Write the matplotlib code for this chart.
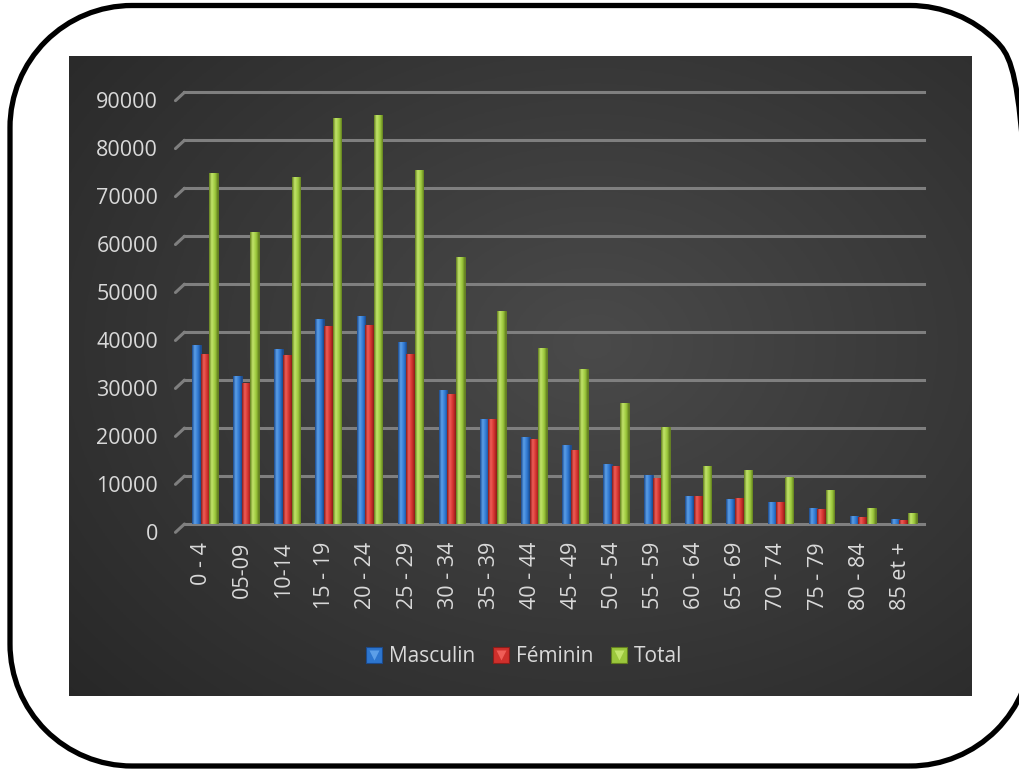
import numpy as np
import matplotlib.pyplot as plt
import matplotlib.transforms as mtransforms
from matplotlib.patches import PathPatch
from matplotlib.path import Path
from matplotlib.lines import Line2D
from matplotlib.legend_handler import HandlerTuple

plt.rcParams['font.family'] = ['Open Sans', 'DejaVu Sans']

groupes = ['0 - 4', '05-09', '10-14', '15 - 19', '20 - 24', '25 - 29', '30 - 34',
           '35 - 39', '40 - 44', '45 - 49', '50 - 54', '55 - 59', '60 - 64',
           '65 - 69', '70 - 74', '75 - 79', '80 - 84', '85 et +']
masculin = [37400, 30900, 36500, 42800, 43300, 37900, 28000, 21800, 18100,
            16400, 12500, 10200, 5800, 5300, 4600, 3400, 1700, 1000]
feminin = [35400, 29300, 35300, 41300, 41500, 35500, 27000, 21800, 17700,
           15500, 12100, 9600, 5800, 5400, 4600, 3200, 1400, 900]
total = [73200, 60900, 72400, 84600, 85200, 73900, 55600, 44400, 36600,
         32300, 25200, 20200, 12100, 11300, 9800, 7100, 3400, 2300]
yticks = list(range(0, 90001, 10000))

# dark, light, mid colours for the cylinder shading of each series
series = [
    ('Masculin', masculin, ('#1b4a8c', '#5c9fe8', '#2d76cf')),
    ('Féminin', feminin, ('#8a1d1a', '#ef5d57', '#cf302c')),
    ('Total', total, ('#637f1f', '#c2e46a', '#9bc73c')),
]

W, H = 1020, 771
fig = plt.figure(figsize=(W / 100, H / 100), dpi=100)
fig.patch.set_facecolor('white')

# dark panel with a soft radial glow
px0, px1, py0, py1 = 69, 972, 56, 696
bg = fig.add_axes([px0 / W, 1 - py1 / H, (px1 - px0) / W, (py1 - py0) / H])
gx, gy = np.meshgrid(np.linspace(0, 1, 300), np.linspace(0, 1, 220))
r = np.sqrt(((gx - 0.58) / 0.75) ** 2 + ((gy - 0.45) / 0.8) ** 2)
lev = np.clip(0.29 - 0.13 * r, 0.155, 0.29)
bg.imshow(np.dstack([lev, lev, lev]), extent=(0, 1, 0, 1), aspect='auto')
bg.set_axis_off()

ax0, ax1 = 184.5, 924.3
ay0, ay1 = 524, 92.3
ax = fig.add_axes([ax0 / W, 1 - ay0 / H, (ax1 - ax0) / W, (ay0 - ay1) / H])
ax.set_facecolor('none')

x = np.arange(len(groupes))
w = 0.21


def shade(dark, light, mid):
    cols = np.array([plt.matplotlib.colors.to_rgb(c) for c in (dark, light, mid, dark)])
    t = np.linspace(0, 1, 40)
    return np.dstack([np.interp(t, [0, 0.3, 0.7, 1], cols[:, k]) for k in range(3)])


for i, (name, vals, cols) in enumerate(series):
    bars = ax.bar(x + (i - 1) * w, vals, w, color=cols[2], edgecolor=cols[0],
                  linewidth=0.6, zorder=3)
    grad = shade(*cols)
    for b in bars:
        im = ax.imshow(grad, extent=(b.get_x(), b.get_x() + b.get_width(), 0, b.get_height()),
                       aspect='auto', zorder=3.5)
        im.set_clip_path(b)

ax.set_xlim(-0.5, len(groupes) - 0.5)
ax.set_ylim(0, 90000)

# horizontal grid with a short slanted depth stroke on the left
for v in yticks:
    ax.axhline(v, color='#7f7f7f', lw=2.2, zorder=1, clip_on=False)
    ax.annotate('', xy=(-0.5, v), xytext=(-6.5, -6), textcoords='offset points',
                arrowprops=dict(arrowstyle='-', color='#7f7f7f', lw=2.2,
                                shrinkA=0, shrinkB=0), annotation_clip=False)

for s in ax.spines.values():
    s.set_visible(False)

ax.set_yticks(yticks)
ax.set_yticklabels([str(v) for v in yticks])
ax.set_xticks(x)
ax.set_xticklabels(groupes, rotation=90)
ax.tick_params(axis='y', length=0, pad=19, labelsize=15.5, labelcolor='#d9d9d9')
ax.tick_params(axis='x', length=0, pad=13, labelsize=15.5, labelcolor='#d9d9d9')

for lab in ax.get_yticklabels():
    lab.set_transform(lab.get_transform() + mtransforms.ScaledTranslation(0, -0.08, fig.dpi_scale_trans))
for lab in ax.get_xticklabels():
    lab.set_transform(lab.get_transform() + mtransforms.ScaledTranslation(-0.035, 0, fig.dpi_scale_trans))

handles = []
for name, vals, cols in series:
    sq = Line2D([], [], marker='s', ms=11, color=cols[2], mec=cols[0], mew=0.8, ls='none')
    tri = Line2D([], [], marker='v', ms=7.5, color=cols[1], mec='none', ls='none')
    handles.append((sq, tri))
leg = fig.legend(handles, [s[0] for s in series], loc='center', bbox_to_anchor=(524 / W, 1 - 657 / H),
                 ncol=3, frameon=False, fontsize=15, handlelength=0.8, handletextpad=0.3,
                 columnspacing=0.85, handler_map={tuple: HandlerTuple(ndivide=1)})
for t in leg.get_texts():
    t.set_color('#d9d9d9')

# rounded outer frame, built from arcs in pixel coordinates
fx0, fx1, fy0, fy1, rad = 10, 1032, 5, 765.5, 122
arc = Path.arc
verts, codes = [], []
for (cx, cy, a0, a1) in [(fx1 - rad, fy0 + rad, 270, 360), (fx1 - rad, fy1 - rad, 0, 90),
                         (fx0 + rad, fy1 - rad, 90, 180), (fx0 + rad, fy0 + rad, 180, 270)]:
    p = arc(a0, a1)
    v = p.vertices * rad + [cx, cy]
    c = list(p.codes)
    c[0] = Path.MOVETO if not verts else Path.LINETO
    verts.extend(v)
    codes.extend(c)
verts.append(verts[0])
codes.append(Path.LINETO)
frame = PathPatch(Path(verts, codes), transform=mtransforms.IdentityTransform(),
                  facecolor='none', edgecolor='black', linewidth=3.8)
fig.add_artist(frame)

fig.savefig('out.png', dpi=100)
